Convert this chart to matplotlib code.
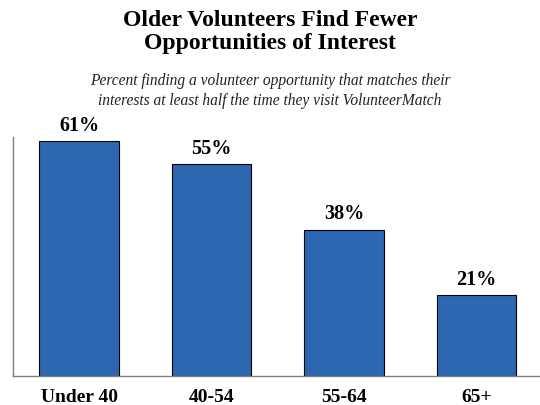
import numpy as np
import matplotlib.pyplot as plt

groups = ['Under 40', '40-54', '55-64', '65+']
pct = [61, 55, 38, 21]

plt.rcParams['font.family'] = ['Liberation Serif', 'DejaVu Serif']

fig = plt.figure(figsize=(5.4, 4.06), dpi=100)
W, H = 540, 406
# axes box in pixel terms: left 13, right 540, bottom 377, top 138
ax = fig.add_axes([13/W, 1 - 377/H, (540-13)/W, (377-138)/H])

x = np.arange(len(groups))
ax.bar(x, pct, width=0.6, color='#2E67B1', edgecolor='black', linewidth=0.8)
for xi, v in zip(x, pct):
    ax.annotate(f'{v}%', (xi, v), xytext=(0, 4.5), textcoords='offset points',
                ha='center', va='bottom', fontsize=14.5, fontweight='bold')

ax.set_xlim(-0.5, 3.48)
ax.set_ylim(0, 62)
ax.set_xticks(x)
ax.set_xticklabels(groups, fontsize=14, fontweight='bold')
ax.tick_params(axis='x', length=0, pad=8.5)
ax.set_yticks([])
for s in ['top', 'right']:
    ax.spines[s].set_visible(False)
ax.spines['left'].set_color('#808080')
ax.spines['bottom'].set_color('#808080')
ax.spines['left'].set_linewidth(1.0)
ax.spines['bottom'].set_linewidth(1.0)

fig.text(0.5, 1 - 32/H, 'Older Volunteers Find Fewer\nOpportunities of Interest',
         ha='center', va='center', fontsize=17, fontweight='bold',
         linespacing=1.17)
fig.text(0.5, 1 - 91/H, 'Percent finding a volunteer opportunity that matches their\n'
         'interests at least half the time they visit VolunteerMatch',
         ha='center', va='center', fontsize=11.2, style='italic',
         color='#222222', linespacing=1.27)

fig.savefig('out.png', dpi=100)
